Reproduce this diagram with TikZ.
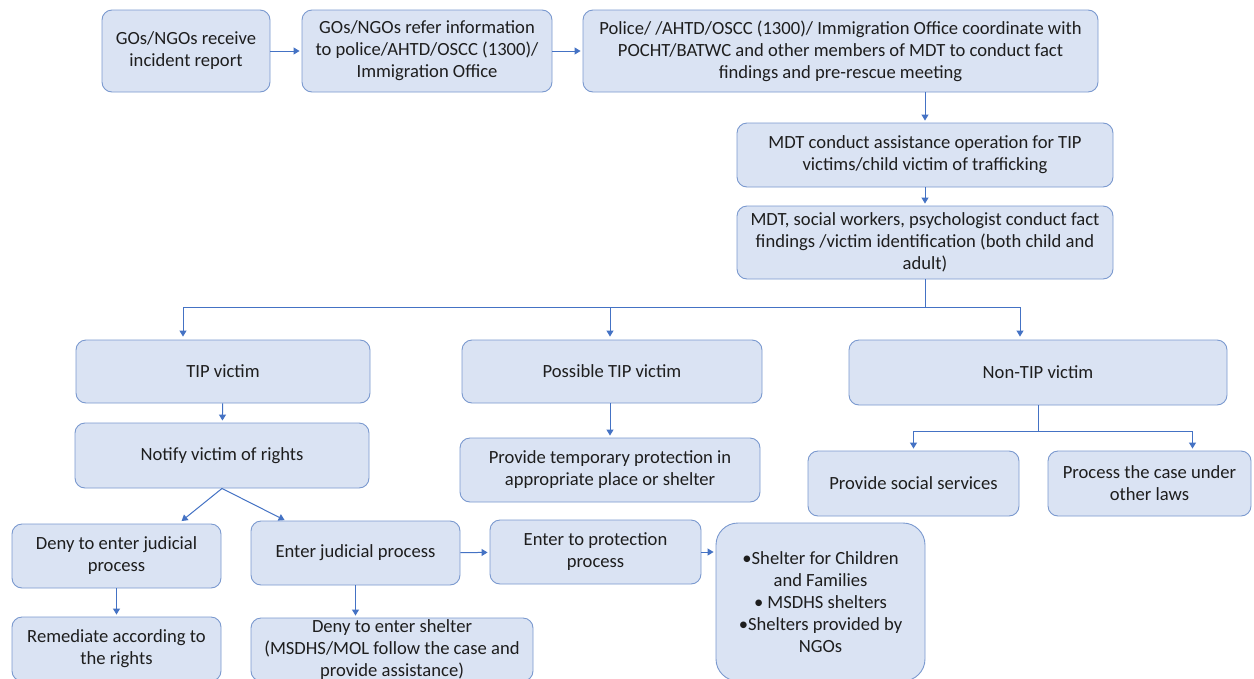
\documentclass[tikz,border=0pt]{standalone}
\usepackage{fontspec}
\setmainfont{Carlito}
\usetikzlibrary{arrows.meta}
\definecolor{boxfill}{HTML}{DAE3F3}
\definecolor{boxline}{HTML}{7A99CF}
\definecolor{arrowc}{HTML}{4472C4}
\definecolor{txt}{HTML}{1E1E1E}
\newcommand\mybox[7][]{\node[box,minimum width={(#4-#2)*1pt},minimum height={(#5-#3)*1pt},#1] (#6) at ({(#2+#4)/2},{(#3+#5)/2}) {#7};}
\begin{document}
\begin{tikzpicture}[x=1pt,y=-1pt,
  box/.style={draw=boxline, fill=boxfill, rounded corners=10pt, line width=0.9pt, align=center, inner sep=0pt, text=txt, font=\fontsize{18.6}{22}\selectfont},
  arr/.style={draw=arrowc, line width=1pt, -{Triangle[width=7pt,length=6pt]}},
  ln/.style={draw=arrowc, line width=1pt}
]
\useasboundingbox (0,0) rectangle (1254,678);
\clip (0,0) rectangle (1254,678);
\fill[white] (0,0) rectangle (1254,678);

\mybox{102}{10}{270}{92}{n1}{GOs/NGOs receive\\incident report}
\mybox{302}{10}{552}{92}{n2}{GOs/NGOs refer information\\to police/AHTD/OSCC (1300)/\\Immigration Office}
\mybox{583}{10}{1098}{92}{n3}{Police/ /AHTD/OSCC (1300)/ Immigration Office coordinate with\\POCHT/BATWC and other members of MDT to conduct fact\\findings and pre-rescue meeting}
\mybox{737}{123}{1113}{187}{n4}{MDT conduct assistance operation for TIP\\victims/child victim of trafficking}
\mybox{737}{206}{1113}{279}{n5}{MDT, social workers, psychologist conduct fact\\findings /victim identification (both child and\\adult)}
\mybox{76}{340}{370}{403}{n6}{TIP victim}
\mybox{462}{340}{762}{403}{n7}{Possible TIP victim}
\mybox{849}{340}{1227}{405}{n8}{Non-TIP victim}
\mybox{808}{451}{1019}{516}{n9}{Provide social services}
\mybox{1048}{451}{1251}{516}{n10}{Process the case under\\other laws}
\mybox{460}{438}{760}{502}{n11}{Provide temporary protection in\\appropriate place or shelter}
\mybox{75}{423}{369}{488}{n12}{Notify victim of rights}
\mybox{12}{524}{221}{588}{n13}{Deny to enter judicial\\process}
\mybox{251}{521}{460}{585}{n14}{Enter judicial process}
\mybox{12}{617}{221}{681}{n15}{Remediate according to\\the rights}
\mybox{251}{618}{533}{681}{n16}{Deny to enter shelter\\(MSDHS/MOL follow the case and\\provide assistance)}
\mybox{490}{520}{701}{584}{n17}{Enter to protection\\process}
\mybox[rounded corners=22pt]{716}{523}{925}{681}{n18}{•Shelter for Children\\and Families\\• MSDHS shelters\\•Shelters provided by\\NGOs}

\coordinate (bus) at (0,307);
\coordinate (bus2) at (0,431);

\draw[arr, shorten >=2pt] (n1) -- (n2);
\draw[arr, shorten >=2pt] (n2) -- (n3);
\draw[arr, shorten >=2pt] (n4.north |- n3.south) -- (n4.north);
\draw[arr, shorten >=2pt] (n4) -- (n5);
\draw[ln] (n5.south) -- (n5.south |- bus);
\draw[arr, shorten >=3pt] (n5.south |- bus) -| ([xshift=-40pt]n6.north);
\draw[arr, shorten >=3pt] (n5.south |- bus) -| ([xshift=-2pt]n7.north);
\draw[arr, shorten >=3pt] (n5.south |- bus) -| ([xshift=-18pt]n8.north);
\draw[arr, shorten >=2pt] (n6) -- (n12);
\draw[arr, shorten >=2pt] ([xshift=-2pt]n7.south) -- ([xshift=-2pt]n7.south |- n11.north);
\draw[ln] (n8.south) -- (n8.south |- bus2);
\draw[arr, shorten >=2pt] (n8.south |- bus2) -| (n9.north);
\draw[arr, shorten >=2pt] (n8.south |- bus2) -| ([xshift=43pt]n10.north);
\draw[arr, shorten >=4pt] (n12.south) -- ([xshift=62pt]n13.north);
\draw[arr, shorten >=1pt] (n12.south) -- ([xshift=-70pt]n14.north);
\draw[arr, shorten >=2pt] (n13) -- (n15);
\draw[arr, shorten >=2pt] (n14.south) -- (n14.south |- n16.north);
\draw[arr, shorten >=2pt] (n14) -- (n17);
\draw[arr, shorten >=2pt] (n17.east) -- (n17.east -| n18.west);
\end{tikzpicture}
\end{document}
